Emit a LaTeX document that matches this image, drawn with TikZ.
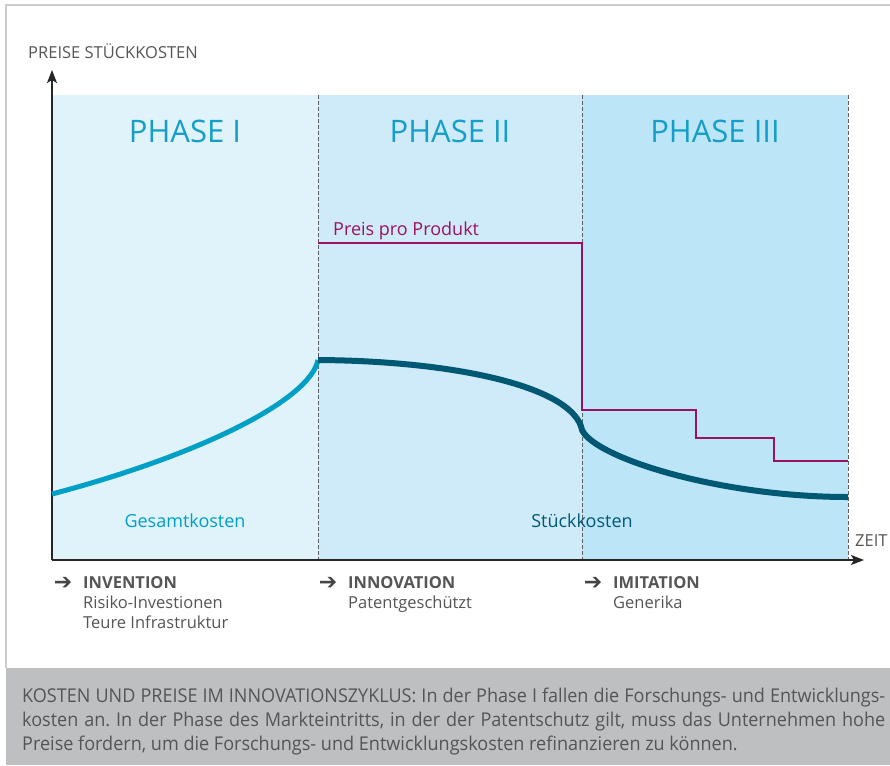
\documentclass[tikz,border=0pt]{standalone}
\usepackage{fontspec}
\setmainfont{Open Sans}
\newfontfamily\arrowfont{DejaVu Sans}
\newfontfamily\capfont[FakeStretch=0.95]{Open Sans}
\usetikzlibrary{arrows.meta,positioning}
\frenchspacing
\definecolor{phaseA}{HTML}{E0F3FB}
\definecolor{phaseB}{HTML}{CFEBF9}
\definecolor{phaseC}{HTML}{BDE5F8}
\definecolor{phasetext}{HTML}{159FC6}
\definecolor{gesamt}{HTML}{009FC6}
\definecolor{stueck}{HTML}{005873}
\definecolor{preis}{HTML}{9A1260}
\definecolor{labelgray}{HTML}{555555}
\definecolor{capbox}{HTML}{BEBFC1}
\definecolor{frame}{HTML}{CCCCCC}
\tikzset{
	dashline/.style={draw=gray!75!black, dash pattern=on 4pt off 2pt, line width=0.9pt},
	phasetitle/.style={text=phasetext, font=\fontsize{31}{31}\selectfont, anchor=base, inner sep=0},
	axislabel/.style={text=labelgray, font=\fontsize{16.5}{16.5}\selectfont, anchor=base west, inner sep=0},
	curvelabel/.style={font=\fontsize{18}{18}\selectfont, anchor=base, inner sep=0},
	steplabel/.style={text=labelgray, font=\fontsize{16.5}{20}\selectfont, anchor=north west, align=left, inner sep=0},
	steparrow/.style={text=labelgray!80!black, font=\arrowfont\fontsize{22}{22}\selectfont, inner sep=0}
}
\begin{document}
\begin{tikzpicture}[x=1pt, y=-1pt]
	\useasboundingbox[fill=white] (0,0) rectangle (890,765);
	\draw[frame, line width=1.5pt] (890,5) -- (6,5) -- (6,668);
	% phases
	\fill[phaseA] (52,95) rectangle (318,560);
	\fill[phaseB] (318,95) rectangle (582,560);
	\fill[phaseC] (582,95) rectangle (848,560);
	\foreach \x in {318,582,848}
		\draw[dashline] (\x,95) -- (\x,560);
	\node[phasetitle] (phaseI) at (185,142) {PHASE I};
	\node[phasetitle] (phaseII) at (450,142) {PHASE II};
	\node[phasetitle] (phaseIII) at (715,142) {PHASE III};
	% axes
	\coordinate (origin) at (52,560);
	\coordinate (ytop) at (52,70);
	\coordinate (xend) at (864,560);
	\draw[line width=1.6pt, draw=black!85, -{Stealth[length=13pt, width=10pt, inset=3pt]}] (origin) -- (ytop);
	\draw[line width=1.6pt, draw=black!85, -{Stealth[length=13pt, width=10pt, inset=3pt]}] (origin) -- (xend);
	\node[axislabel] (ylab) at (28,59) {PREISE STÜCKKOSTEN};
	\node[axislabel] (xlab) at (855,546) {ZEIT};
	% price
	\draw[preis, line width=2pt] (318,243) -- (582,243) -- (582,410) -- (696,410) -- (696,438) -- (774,438) -- (774,461) -- (848,461);
	\node[curvelabel, text=preis, anchor=base west] (preislab) at (333,235) {Preis pro Produkt};
	% costs
	\coordinate (peak) at (318,360);
	\coordinate (turn) at (582,430);
	\draw[gesamt, line width=5pt] (52,494) .. controls (200,455) and (310,400) .. (peak);
	\draw[stueck, line width=6pt] (peak) .. controls (460,361) and (574,388) .. (turn)
		.. controls (595,458) and (720,497) .. (848,497);
	\node[curvelabel, text=gesamt] (gesamtlab) at (185,527) {Gesamtkosten};
	\node[curvelabel, text=stueck] (stuecklab) at (582,527) {Stückkosten};
	% steps
	\node[steparrow] (arrI) at (63,583) {➔};
	\node[steplabel] (invention) at (83,576) {\textbf{INVENTION}\\Risiko-Investionen\\Teure Infrastruktur};
	\node[steparrow] (arrII) at (328,583) {➔};
	\node[steplabel] (innovation) at (348,576) {\textbf{INNOVATION}\\Patentgeschützt};
	\node[steparrow] (arrIII) at (593,583) {➔};
	\node[steplabel] (imitation) at (613,576) {\textbf{IMITATION}\\Generika};
	% caption
	\fill[capbox] (6,668) rectangle (890,765);
	\node[anchor=north west, inner sep=0, text width=863pt, align=justify, text=labelgray,
		font=\capfont\fontsize{19}{24}\selectfont] (caption) at (22,688)
		{KOSTEN UND PREISE IM INNOVATIONSZYKLUS: In der Phase I fallen die Forschungs- und Entwicklungs-\linebreak
		kosten an. In der Phase des Markteintritts, in der der Patentschutz gilt, muss das Unternehmen hohe\linebreak
		Preise fordern, um die Forschungs- und Entwicklungskosten refinanzieren zu können.};
\end{tikzpicture}
\end{document}
